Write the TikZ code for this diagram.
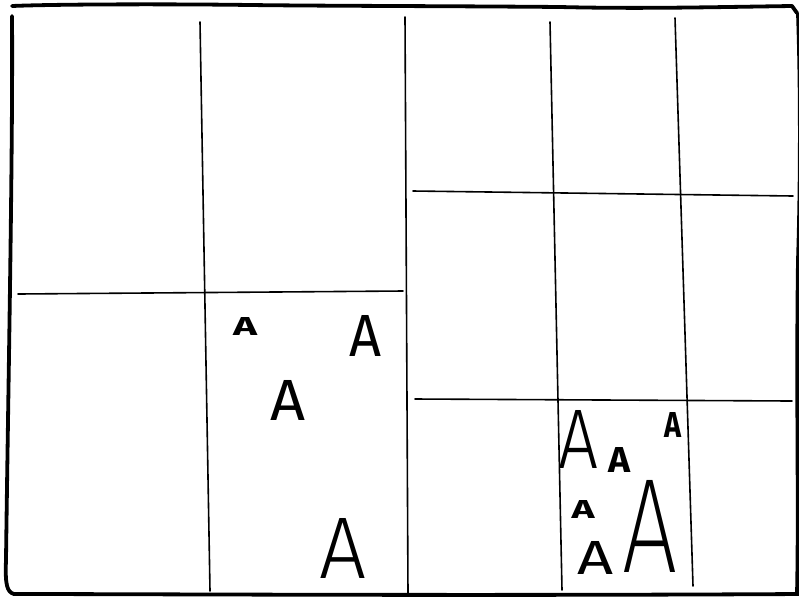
\documentclass[tikz,border=0pt]{standalone}
\usepackage{fontspec}
\usepackage{graphicx}
\newfontfamily\fThin{Fira Sans Thin}
\newfontfamily\fXLight{Fira Sans ExtraLight}
\newfontfamily\fLight{Fira Sans Light}
\newfontfamily\fReg{Fira Sans}
\newfontfamily\fBold{Fira Sans Bold}
\newcommand{\handA}[3]{\resizebox{#1pt}{#2pt}{#3A}}
\tikzset{
  gridline/.style={line width=1.6pt, line cap=round, black},
  border/.style={line width=3.8pt, line cap=round, line join=round, black},
  letter/.style={inner sep=0pt, outer sep=0pt},
}
\begin{document}
\begin{tikzpicture}[x=1pt, y=-1pt]
\useasboundingbox (0,0) rectangle (799,598);
\clip (0,0) rectangle (799,598);
% outer hand-drawn border
\draw[border] (12,6) .. controls (60,4) and (180,4) .. (250,5)
  .. controls (330,6) and (450,6) .. (560,7)
  .. controls (640,9) and (720,7) .. (792,6) -- (797,13);
\draw[border] (12,16) .. controls (13,150) and (8,400) .. (6,560)
  .. controls (5,585) and (7,592) .. (14,594)
  .. controls (150,594) and (450,596) .. (800,594);
\draw[border] (798,14) .. controls (801,100) and (800,200) .. (798,260)
  .. controls (796,400) and (799,500) .. (797,594);
% grid lines
\draw[gridline] (200,22) -- (210,591);
\draw[gridline] (405,17) -- (408,595);
\draw[gridline] (18,294) -- (403,291);
\draw[gridline] (550,22) -- (562,590);
\draw[gridline] (675,18) -- (693,586);
\draw[gridline] (413,191) -- (793,196);
\draw[gridline] (415,399) -- (792,401);
% letters, left cell
\node[letter] (l1) at (245,326) {\handA{24}{18}{\fBold}};
\node[letter] (l2) at (366,336) {\handA{32}{41}{\fReg}};
\node[letter] (l3) at (288,400) {\handA{35}{40}{\fReg}};
\node[letter] (l4) at (343,548) {\handA{47}{60}{\fLight}};
% letters, right cell
\node[letter] (r1) at (578,439) {\handA{40}{58}{\fLight}};
\node[letter] (r2) at (619,460) {\handA{22}{25}{\fBold}};
\node[letter] (r3) at (673,425) {\handA{17}{25}{\fBold}};
\node[letter] (r4) at (583,509) {\handA{23}{18}{\fBold}};
\node[letter] (r5) at (595,558) {\handA{36}{33}{\fReg}};
\node[letter] (r6) at (650,526) {\handA{55}{92}{\fXLight}};
\end{tikzpicture}
\end{document}
